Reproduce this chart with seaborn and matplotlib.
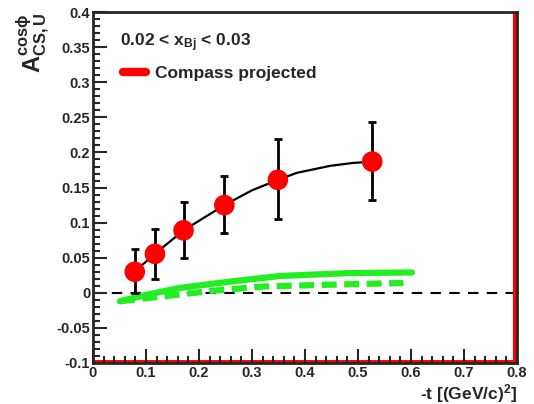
import matplotlib
matplotlib.use("Agg")
import matplotlib.pyplot as plt
import seaborn as sns
import pandas as pd

sns.set_style("ticks")
plt.rcParams['font.family'] = ['Liberation Sans', 'DejaVu Sans']
plt.rcParams['font.weight'] = 'bold'
plt.rcParams['mathtext.fontset'] = 'custom'
plt.rcParams['mathtext.rm'] = 'Liberation Sans:bold'
plt.rcParams['mathtext.it'] = 'Liberation Sans:bold'
plt.rcParams['mathtext.bf'] = 'Liberation Sans:bold'

# data points
t_pts = [0.079, 0.117, 0.171, 0.248, 0.349, 0.527]
a_pts = [0.030, 0.0555, 0.089, 0.125, 0.161, 0.187]
err_lo = [0.030, 0.0355, 0.040, 0.040, 0.056, 0.055]
err_hi = [0.032, 0.0355, 0.040, 0.041, 0.058, 0.057]

# black fit curve
t_fit = [0.075, 0.117, 0.171, 0.248, 0.300, 0.349, 0.385, 0.448, 0.490, 0.527]
a_fit = [0.028, 0.0555, 0.089, 0.125, 0.146, 0.161, 0.171, 0.181, 0.185, 0.187]

# green curves
t_green = [0.051, 0.100, 0.164, 0.259, 0.353, 0.480, 0.602]
a_green = [-0.012, -0.003, 0.007, 0.016, 0.024, 0.028, 0.029]
t_green_d = [0.051, 0.132, 0.227, 0.322, 0.416, 0.586]
a_green_d = [-0.012, -0.005, 0.003, 0.009, 0.011, 0.014]

pts = pd.DataFrame({"t": t_pts, "A": a_pts})

fig = plt.figure(figsize=(5.34, 4.04), dpi=100)
ax = fig.add_axes([0.174, 0.1015, 0.794, 0.8685])
ax.set_axisbelow(False)

ax.axhline(0, color="black", lw=1.5, ls=(0, (5, 4)), zorder=1)
# red projection lines sitting on the frame (outer half clipped)
ax.axvline(0.8, color="red", lw=6.5, zorder=2)
ax.axhline(-0.1, color="red", lw=5, zorder=2)

sns.lineplot(x=t_green, y=a_green, color="#22ee22", lw=4.5, ax=ax, zorder=3)
sns.lineplot(x=t_green_d, y=a_green_d, color="#22ee22", lw=4.5, ax=ax, zorder=3)
ax.lines[-1].set_dashes((2.4, 1.2))
sns.lineplot(x=t_fit, y=a_fit, color="black", lw=1.6, ax=ax, zorder=4)
ax.errorbar(t_pts, a_pts, yerr=[err_lo, err_hi], fmt="none", ecolor="black",
            elinewidth=2, capsize=3, capthick=2, zorder=4)
sns.scatterplot(data=pts, x="t", y="A", color="red", s=220, edgecolor="none", ax=ax, zorder=5)

ax.plot([], [], color="red", lw=6, label="Compass projected")
ax.legend(loc="upper left", bbox_to_anchor=(0.035, 0.89), frameon=False,
          fontsize=12.5, handlelength=1.3, handletextpad=0.5)
ax.text(0.051, 0.357, r"0.02 < x$_{\mathrm{Bj}}$ < 0.03", fontsize=12.5,
        fontweight="bold", va="center")

ax.set_xlim(0, 0.8)
ax.set_ylim(-0.1, 0.4)
ax.set_xticks([0, 0.1, 0.2, 0.3, 0.4, 0.5, 0.6, 0.7, 0.8])
ax.set_xticklabels(["0", "0.1", "0.2", "0.3", "0.4", "0.5", "0.6", "0.7", "0.8"])
ax.set_yticks([-0.1, -0.05, 0, 0.05, 0.1, 0.15, 0.2, 0.25, 0.3, 0.35, 0.4])
ax.set_yticklabels(["-0.1", "-0.05", "0", "0.05", "0.1", "0.15", "0.2", "0.25",
                    "0.3", "0.35", "0.4"])
ax.set_xticks([i * 0.02 for i in range(41)], minor=True)
ax.set_yticks([-0.1 + i * 0.01 for i in range(51)], minor=True)
ax.tick_params(which="major", direction="in", length=10, width=1.5, labelsize=10.5, pad=2)
ax.tick_params(which="minor", direction="in", length=5, width=1.5)
for s in ax.spines.values():
    s.set_linewidth(2)
    s.set_zorder(6)

ax.set_xlabel(r"-t [(GeV/c)$^{2}$]", fontsize=12.5, fontweight="bold", loc="right", labelpad=2)
ax.set_ylabel(r"A$^{\mathrm{cos\phi}}_{\mathrm{CS,U}}$", fontsize=17, fontweight="bold",
              loc="top", labelpad=3)

fig.savefig("out.png", dpi=100)
